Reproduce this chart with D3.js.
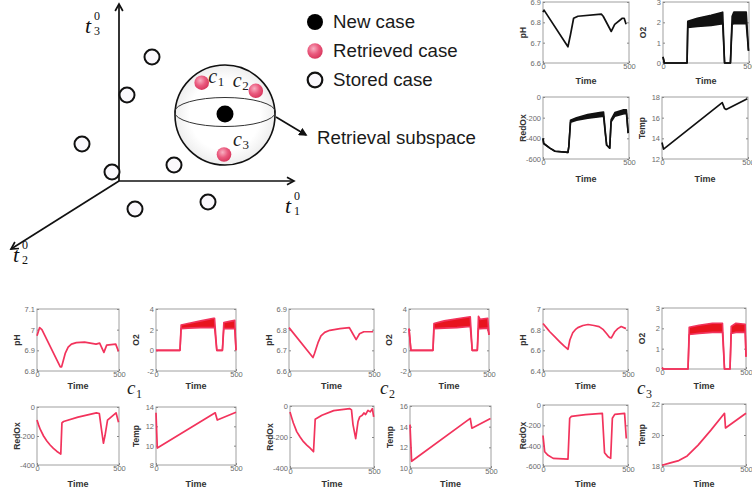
<!DOCTYPE html>
<html>
<head>
<meta charset="utf-8">
<script src="https://cdn.jsdelivr.net/npm/d3@7"></script>
<style>
  html, body { margin: 0; padding: 0; background: #fff; }
  svg { display: block; font-family: "Liberation Sans", Arial, sans-serif; }
</style>
</head>
<body>
<svg id="fig" width="752" height="497"></svg>
<script>
// ---------------------------------------------------------------
// Case space: stored cases, the new case and the retrieved cases
// (coordinates in projected t1/t3 units, origin at the axes' corner)
// ---------------------------------------------------------------
const storedCases = [[3.3, 12.4], [0.8, 8.6], [-3.7, 3.7], [-0.7, 0.9], [5.5, 1.6], [1.6, -2.8], [8.9, -2.1]];
const newCase = [10.6, 6.7];
const retrievedCases = [[8.27, 9.83], [13.68, 9.02], [10.5, 2.65]];
const retrievedNames = ["1", "2", "3"];
const subspaceRadius = 5;
const axisEnds = [[17.5, 0], [0, 17.7], [-10.8, -6.8]];   // t1, t3, t2
const axisNames = ["1", "3", "2"];
const legendItems = ["New case", "Retrieved case", "Stored case"];

// ---------------------------------------------------------------
// Time series (Time 0..500): new case (black) and retrieved c1..c3 (red)
// [t, value] for single traces, [t, low, high] for oscillating traces
// ---------------------------------------------------------------
const timeDomain = [0, 500];
const timeTicks = [0, 500];

const newPH = [[0, 6.85], [6, 6.86], [145, 6.68], [160, 6.74], [178, 6.82], [203, 6.83], [339, 6.84], [350, 6.83], [397, 6.755], [417, 6.79], [461, 6.82], [472, 6.82], [483, 6.79]];
const newO2 = [[0, 0.3, 0.3], [8, 0, 0], [140, 0, 0], [144, 1.75, 2.05], [200, 1.8, 2.2], [280, 1.85, 2.35], [347, 1.93, 2.5], [358, 0, 0], [392, 0, 0], [402, 1.9, 2.3], [412, 1.93, 2.5], [484, 1.93, 2.5], [497, 0.6, 0.6]];
const newRedOx = [[0, -400, -400], [4, -450, -450], [40, -495, -495], [70, -525, -525], [145, -536, -536], [150, -480, -480], [160, -245, -225], [195, -225, -200], [260, -205, -170], [330, -190, -150], [352, -185, -145], [362, -350, -330], [370, -465, -465], [388, -495, -495], [396, -240, -220], [418, -185, -150], [465, -165, -125], [485, -160, -125], [495, -350, -350]];
const newTemp = [[0, 13.6], [9, 12.96], [350, 17.46], [364, 16.88], [373, 16.8], [496, 17.84]];

const c1PH = [[0, 6.97], [16, 7.01], [30, 7.0], [142, 6.82], [150, 6.82], [160, 6.85], [172, 6.885], [190, 6.915], [210, 6.93], [240, 6.937], [290, 6.94], [360, 6.93], [382, 6.935], [408, 6.89], [425, 6.925], [480, 6.93], [497, 6.895]];
const c1O2 = [[0, 0, 0], [150, 0, 0], [157, 2.1, 2.45], [200, 2.15, 2.6], [280, 2.2, 2.85], [360, 2.2, 3.1], [366, 2.2, 3.1], [380, 0, 0], [415, 0, 0], [424, 2.1, 2.7], [460, 2.1, 2.8], [492, 2.1, 2.9], [500, 0, 0]];
const c1RedOx = [[0, -90], [10, -125], [20, -155], [40, -200], [60, -235], [80, -262], [100, -285], [120, -305], [145, -325], [152, -110], [162, -100], [250, -70], [362, -40], [380, -45], [395, -170], [405, -250], [415, -195], [430, -90], [482, -40], [497, -105]];
const c1Temp = [[0, 13.4], [8, 9.75], [370, 13.4], [383, 12.65], [500, 13.45]];

const c2PH = [[0, 6.81], [141, 6.665], [150, 6.685], [160, 6.71], [172, 6.74], [188, 6.77], [210, 6.787], [240, 6.797], [300, 6.805], [355, 6.81], [372, 6.785], [395, 6.752], [415, 6.78], [440, 6.79], [495, 6.79]];
const c2O2 = [[0, 2.1, 2.1], [12, 0, 0], [150, 0, 0], [156, 2.1, 2.6], [220, 2.15, 2.85], [300, 2.2, 3.05], [383, 2.3, 3.25], [395, 0, 0], [427, 0, 0], [434, 2.1, 3.3], [445, 2.1, 3.0], [492, 2.15, 3.1], [500, 1.5, 1.5]];
const c2RedOx = [[0, -38], [10, -75], [20, -110], [40, -165], [60, -200], [80, -230], [100, -252], [120, -272], [140, -295], [150, -85], [190, -60], [260, -30], [356, -17], [366, -25], [375, -120], [391, -210], [405, -100], [415, -70], [430, -60], [440, -45], [450, -55], [464, -28], [478, -38], [490, -17], [498, -70]];
const c2Temp = [[0, 14.2], [10, 10.65], [372, 14.8], [382, 13.85], [497, 14.8]];

const c3PH = [[0, 6.86], [20, 6.82], [40, 6.78], [70, 6.73], [100, 6.68], [125, 6.64], [147, 6.61], [158, 6.7], [175, 6.77], [190, 6.8], [205, 6.82], [235, 6.84], [265, 6.85], [300, 6.84], [330, 6.83], [355, 6.8], [375, 6.76], [392, 6.725], [402, 6.72], [412, 6.75], [422, 6.78], [440, 6.81], [460, 6.83], [488, 6.81]];
const c3O2 = [[0, 0.05, 0.05], [10, 0, 0], [155, 0, 0], [162, 1.7, 2.05], [220, 1.75, 2.15], [300, 1.8, 2.25], [360, 1.8, 2.25], [372, 0, 0], [405, 0, 0], [412, 1.75, 2.1], [440, 1.8, 2.25], [495, 1.8, 2.2], [500, 0.6, 0.6]];
const c3RedOx = [[0, -300], [10, -460], [30, -495], [60, -525], [147, -532], [157, -130], [167, -112], [250, -95], [349, -82], [362, -470], [382, -510], [398, -525], [408, -130], [422, -92], [480, -82], [490, -330]];
const c3Temp = [[0, 18.05], [50, 18.2], [100, 18.35], [150, 18.65], [215, 19.35], [290, 20.3], [372, 21.4], [378, 20.45], [500, 21.4]];

// y tick labels for each panel
const ticksPH_new = [6.6, 6.7, 6.8, 6.9];
const ticksO2_new = [0, 1, 2, 3];
const ticksRedOx_new = [-600, -400, -200, 0];
const ticksTemp_new = [12, 14, 16, 18];
const ticksPH_c1 = [6.8, 6.9, 7, 7.1];
const ticksO2_c1 = [-2, 0, 2, 4];
const ticksRedOx_c1 = [-400, -200, 0];
const ticksTemp_c1 = [8, 10, 12, 14];
const ticksPH_c2 = [6.6, 6.7, 6.8, 6.9];
const ticksO2_c2 = [-2, 0, 2, 4];
const ticksRedOx_c2 = [-400, -200, 0];
const ticksTemp_c2 = [10, 12, 14, 16];
const ticksPH_c3 = [6.4, 6.6, 6.8, 7];
const ticksO2_c3 = [0, 1, 2, 3];
const ticksRedOx_c3 = [-600, -400, -200, 0];
const ticksTemp_c3 = [18, 20, 22];

const groupNames = ["1", "2", "3"];

// ---------------------------------------------------------------
const svg = d3.select("#fig");
const serif = "'Liberation Serif', 'DejaVu Serif', serif";
const BLACK = "#111";
const RED_LINE = "#f2335c";
const RED_FILL = "#e8141e";

const defs = svg.append("defs");
const pink = defs.append("radialGradient").attr("id", "pinkGrad").attr("cx", "40%").attr("cy", "35%").attr("r", "65%");
pink.append("stop").attr("offset", "0%").attr("stop-color", "#f8b0c2");
pink.append("stop").attr("offset", "55%").attr("stop-color", "#ea5a7e");
pink.append("stop").attr("offset", "100%").attr("stop-color", "#d8385e");
const ball = defs.append("radialGradient").attr("id", "ballGrad").attr("cx", "50%").attr("cy", "50%").attr("r", "50%");
ball.append("stop").attr("offset", "70%").attr("stop-color", "#ffffff");
ball.append("stop").attr("offset", "100%").attr("stop-color", "#eeeeee");
defs.append("marker").attr("id", "headFilled").attr("viewBox", "0 0 10 10").attr("refX", 8).attr("refY", 5)
  .attr("markerWidth", 5).attr("markerHeight", 5).attr("orient", "auto")
  .append("path").attr("d", "M0,0L10,5L0,10z").attr("fill", "#111");

// ---------------- case space diagram ----------------
const sx = d3.scaleLinear().domain([0, 1]).range([119, 129]);
const sy = d3.scaleLinear().domain([0, 1]).range([181, 171]);
const unit = sx(1) - sx(0);

const diag = svg.append("g");
// axes with open arrow heads
axisEnds.forEach(e => {
  const x0 = sx(0), y0 = sy(0), x1 = sx(e[0]), y1 = sy(e[1]);
  diag.append("line").attr("x1", x0).attr("y1", y0).attr("x2", x1).attr("y2", y1)
    .attr("stroke", "#111").attr("stroke-width", 1.7);
  const a = Math.atan2(y1 - y0, x1 - x0), L = 8, spread = 0.5;
  const p1 = [x1 - L * Math.cos(a - spread), y1 - L * Math.sin(a - spread)];
  const p2 = [x1 - L * Math.cos(a + spread), y1 - L * Math.sin(a + spread)];
  diag.append("path").attr("d", `M${p1}L${x1},${y1}L${p2}`).attr("fill", "none")
    .attr("stroke", "#111").attr("stroke-width", 1.7);
});
// axis labels t_k^0
const axisLabelOffset = [[-9, 32], [-34, 29], [2, 13]];
axisEnds.forEach((e, i) => {
  const x = sx(e[0]) + axisLabelOffset[i][0], y = sy(e[1]) + axisLabelOffset[i][1];
  diag.append("text").attr("x", x).attr("y", y).attr("font-family", serif).attr("font-style", "italic")
    .attr("font-size", 22).attr("fill", "#111").text("t");
  diag.append("text").attr("x", x + 9).attr("y", y - 13).attr("font-family", serif)
    .attr("font-size", 12).attr("fill", "#111").text("0");
  diag.append("text").attr("x", x + 9).attr("y", y + 2).attr("font-family", serif)
    .attr("font-size", 12).attr("fill", "#111").text(axisNames[i]);
});

// stored cases
diag.selectAll("circle.stored").data(storedCases).join("circle").attr("class", "stored")
  .attr("cx", d => sx(d[0])).attr("cy", d => sy(d[1])).attr("r", 7.5)
  .attr("fill", "#faf8fc").attr("stroke", "#111").attr("stroke-width", 2);

// retrieval subspace (sphere)
const cx = sx(newCase[0]), cy = sy(newCase[1]) + 1, R = subspaceRadius * unit;
diag.append("circle").attr("cx", cx).attr("cy", cy).attr("r", R)
  .attr("fill", "url(#ballGrad)").attr("stroke", "#111").attr("stroke-width", 1.6);
diag.append("ellipse").attr("cx", cx).attr("cy", cy - 3).attr("rx", R + 0.5).attr("ry", R * 0.29)
  .attr("fill", "none").attr("stroke", "#333").attr("stroke-width", 1);
// new case
diag.append("circle").attr("cx", sx(newCase[0])).attr("cy", sy(newCase[1])).attr("r", 8.5).attr("fill", "#000");
// retrieved cases
diag.selectAll("circle.retr").data(retrievedCases).join("circle").attr("class", "retr")
  .attr("cx", d => sx(d[0])).attr("cy", d => sy(d[1])).attr("r", 7.3).attr("fill", "url(#pinkGrad)");
const caseLabelOffset = [[6.5, 0], [-23, -4], [9, -8.5]];
retrievedCases.forEach((d, i) => {
  const x = sx(d[0]) + caseLabelOffset[i][0], y = sy(d[1]) + caseLabelOffset[i][1];
  diag.append("text").attr("x", x).attr("y", y).attr("font-family", serif).attr("font-style", "italic")
    .attr("font-size", 20).attr("fill", "#222").text("c");
  diag.append("text").attr("x", x + 9.5).attr("y", y + 3).attr("font-family", serif)
    .attr("font-size", 13).attr("fill", "#222").text(retrievedNames[i]);
});
// pointer to the caption
diag.append("line").attr("x1", cx + R + 1).attr("y1", cy + 2).attr("x2", cx + R + 31).attr("y2", cy + 20)
  .attr("stroke", "#111").attr("stroke-width", 1.7).attr("marker-end", "url(#headFilled)");
diag.append("text").attr("x", 317).attr("y", 144).attr("font-size", 18.7).attr("fill", "#1a1a1a")
  .text("Retrieval subspace");

// legend
const legend = svg.append("g");
legendItems.forEach((name, i) => {
  const y = 22 + i * 29;
  const m = legend.append("circle").attr("cx", 315).attr("cy", y).attr("r", 8);
  if (i === 0) m.attr("fill", "#000");
  else if (i === 1) m.attr("fill", "url(#pinkGrad)").attr("r", 7.7);
  else m.attr("fill", "#faf8fc").attr("stroke", "#111").attr("stroke-width", 2.2).attr("r", 7.3);
  legend.append("text").attr("x", 333).attr("y", y + 5.5).attr("font-size", 18.7).attr("fill", "#1a1a1a").text(name);
});

// ---------------- small time-series panels ----------------
const panels = [
  { data: newPH, ticks: ticksPH_new, label: "pH", box: [543, 2, 86, 61], timeY: 84, color: BLACK, fill: BLACK },
  { data: newO2, ticks: ticksO2_new, label: "O2", box: [663, 2, 86, 61], timeY: 84, color: BLACK, fill: BLACK },
  { data: newRedOx, ticks: ticksRedOx_new, label: "RedOx", box: [543, 97, 86, 62], timeY: 181.5, color: BLACK, fill: BLACK },
  { data: newTemp, ticks: ticksTemp_new, label: "Temp", box: [662, 97, 86, 62], timeY: 181.5, color: BLACK, fill: BLACK },

  { data: c1PH, ticks: ticksPH_c1, label: "pH", box: [37, 309, 82, 62], timeY: 389, color: RED_LINE, fill: RED_FILL },
  { data: c1O2, ticks: ticksO2_c1, label: "O2", box: [156, 309, 80, 62], timeY: 389, color: RED_LINE, fill: RED_FILL },
  { data: c1RedOx, ticks: ticksRedOx_c1, label: "RedOx", box: [37, 407, 82, 58], timeY: 486.5, color: RED_LINE, fill: RED_FILL },
  { data: c1Temp, ticks: ticksTemp_c1, label: "Temp", box: [156, 407, 80, 58], timeY: 486.5, color: RED_LINE, fill: RED_FILL },

  { data: c2PH, ticks: ticksPH_c2, label: "pH", box: [289, 309, 85, 62], timeY: 389, color: RED_LINE, fill: RED_FILL },
  { data: c2O2, ticks: ticksO2_c2, label: "O2", box: [409, 309, 80, 62], timeY: 389, color: RED_LINE, fill: RED_FILL },
  { data: c2RedOx, ticks: ticksRedOx_c2, label: "RedOx", box: [290, 406, 84, 62], timeY: 486.5, color: RED_LINE, fill: RED_FILL },
  { data: c2Temp, ticks: ticksTemp_c2, label: "Temp", box: [410, 406, 81, 62], timeY: 486.5, color: RED_LINE, fill: RED_FILL },

  { data: c3PH, ticks: ticksPH_c3, label: "pH", box: [543, 309, 85, 62], timeY: 389, color: RED_LINE, fill: RED_FILL },
  { data: c3O2, ticks: ticksO2_c3, label: "O2", box: [662, 308, 84, 61], timeY: 389, color: RED_LINE, fill: RED_FILL },
  { data: c3RedOx, ticks: ticksRedOx_c3, label: "RedOx", box: [543, 405, 85, 61], timeY: 486.5, color: RED_LINE, fill: RED_FILL },
  { data: c3Temp, ticks: ticksTemp_c3, label: "Temp", box: [662, 404, 84, 62], timeY: 486.5, color: RED_LINE, fill: RED_FILL }
];

function styleAxis(sel) {
  sel.select(".domain").remove();
  sel.selectAll("line").attr("stroke", "#888");
  sel.selectAll("text").attr("font-size", 7.5).attr("fill", "#6b6b6b")
    .attr("font-family", "'Liberation Sans', Arial, sans-serif");
}

panels.forEach(p => {
  const [bx, by, w, h] = p.box;
  const g = svg.append("g").attr("transform", `translate(${bx},${by})`);
  const x = d3.scaleLinear().domain(timeDomain).range([0, w]);
  const y = d3.scaleLinear().domain(d3.extent(p.ticks)).range([h, 0]);

  g.append("rect").attr("width", w).attr("height", h).attr("fill", "#fff")
    .attr("stroke", "#a0a0a0").attr("stroke-width", 1);

  g.append("g").call(d3.axisLeft(y).tickValues(p.ticks).tickSize(-2).tickPadding(2).tickFormat(d => String(d))).call(styleAxis);
  g.append("g").attr("transform", `translate(${w},0)`).call(d3.axisRight(y).tickValues(p.ticks).tickSize(-2).tickFormat("")).call(styleAxis);
  g.append("g").attr("transform", `translate(0,${h})`).call(d3.axisBottom(x).tickValues(timeTicks).tickSize(-2).tickPadding(1).tickFormat(d => String(d))).call(styleAxis);

  if (p.data[0].length === 3) {
    g.append("path").datum(p.data)
      .attr("d", d3.area().x(d => x(d[0])).y0(d => y(d[1])).y1(d => y(d[2])))
      .attr("fill", p.fill);
    [1, 2].forEach(k => {
      g.append("path").datum(p.data)
        .attr("d", d3.line().x(d => x(d[0])).y(d => y(d[k])))
        .attr("fill", "none").attr("stroke", p.color).attr("stroke-width", 1.6).attr("stroke-linejoin", "round");
    });
  } else {
    g.append("path").datum(p.data)
      .attr("d", d3.line().x(d => x(d[0])).y(d => y(d[1])))
      .attr("fill", "none").attr("stroke", p.color).attr("stroke-width", 1.7).attr("stroke-linejoin", "round");
  }

  g.append("text").attr("transform", `translate(-17,${h / 2}) rotate(-90)`).attr("text-anchor", "middle")
    .attr("font-size", 8.5).attr("font-weight", "bold").attr("fill", "#333").text(p.label);
  svg.append("text").attr("x", bx + w / 2).attr("y", p.timeY).attr("text-anchor", "middle")
    .attr("font-size", 9).attr("font-weight", "bold").attr("fill", "#333").text("Time");
});

// group captions c1, c2, c3 under the pH/O2 rows
const groupCaptionX = [127, 380, 637];
groupNames.forEach((n, i) => {
  svg.append("text").attr("x", groupCaptionX[i]).attr("y", 394).attr("font-family", serif)
    .attr("font-style", "italic").attr("font-size", 19).attr("fill", "#222").text("c");
  svg.append("text").attr("x", groupCaptionX[i] + 9).attr("y", 398).attr("font-family", serif)
    .attr("font-size", 12).attr("fill", "#222").text(n);
});
</script>
</body>
</html>
